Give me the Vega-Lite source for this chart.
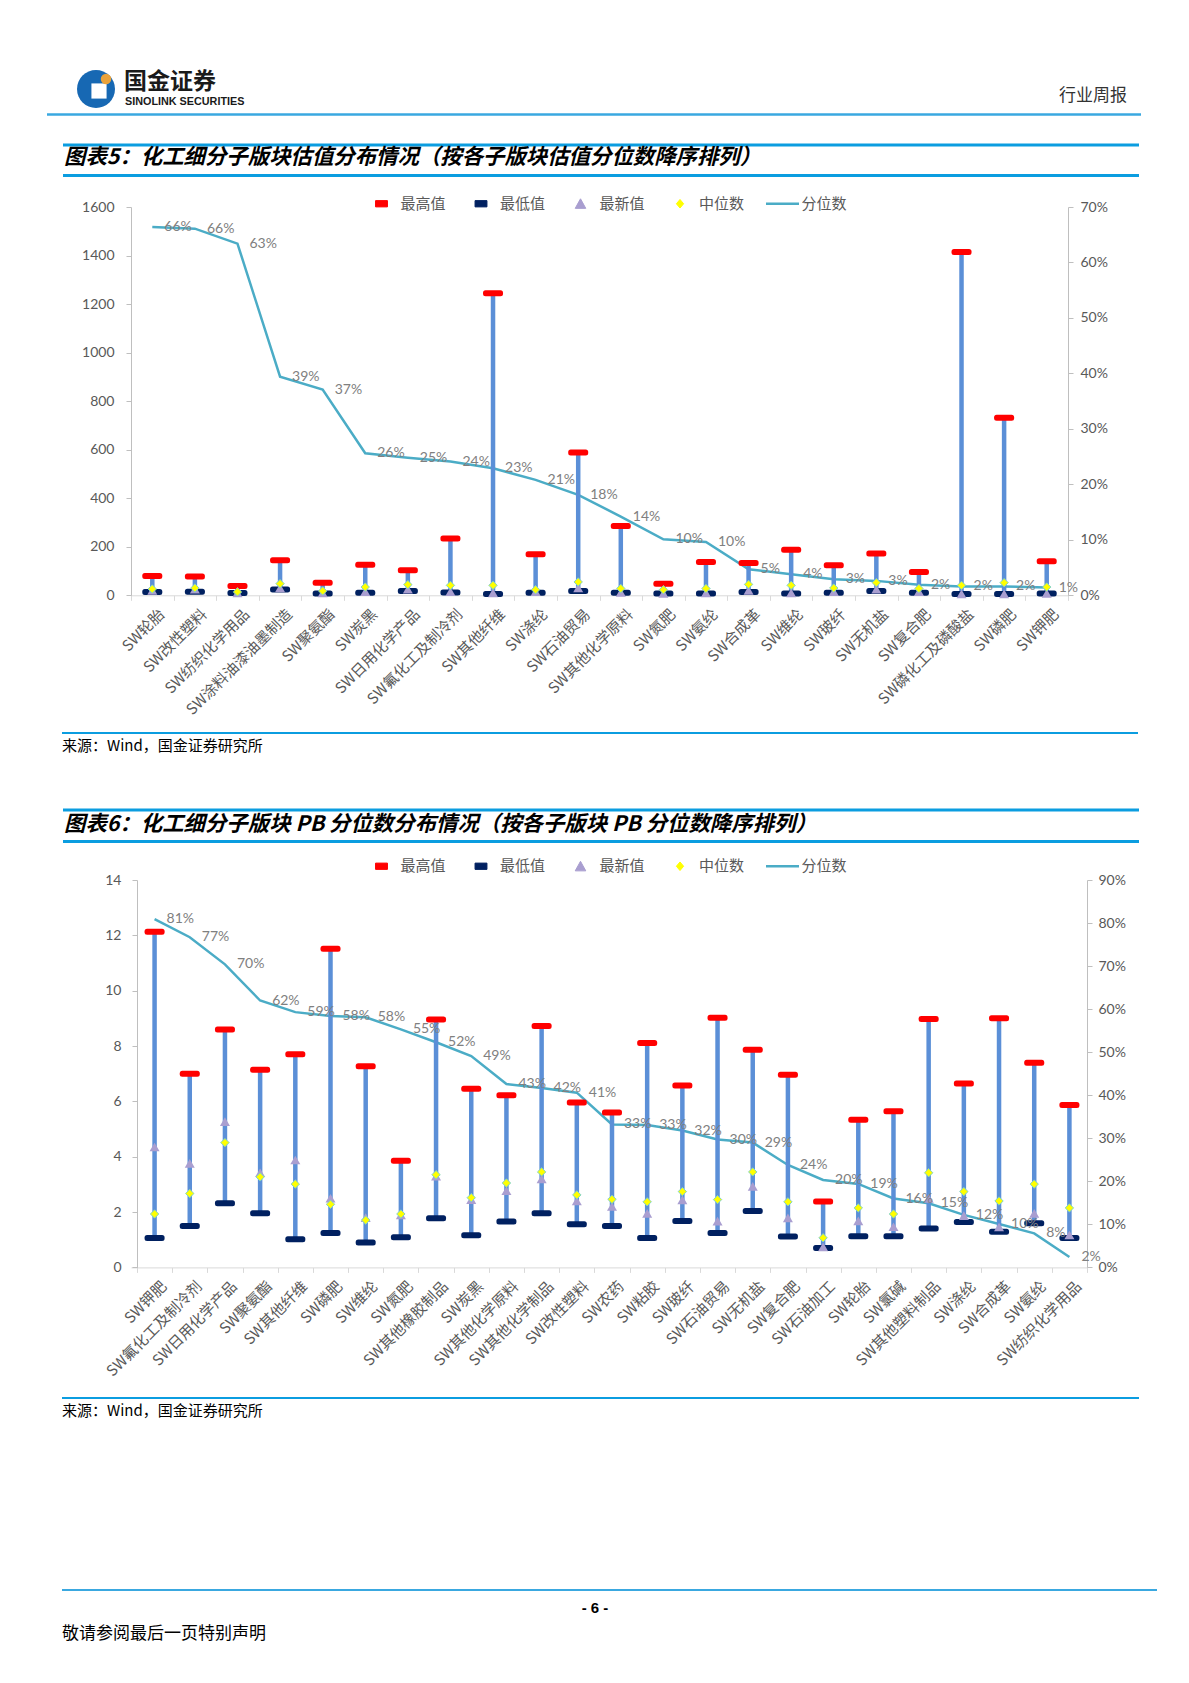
{
  "$schema": "https://vega.github.io/schema/vega-lite/v6.json",
  "padding": 0,
  "background": "#ffffff",
  "spacing": 0,
  "bounds": "flush",
  "resolve": {"scale": {"color": "independent"}, "legend": {"color": "independent"}},
  "config": {"view": {"stroke": null}, "font": "Noto Sans CJK SC", "axis": {"grid": false}},
  "vconcat": [
    {
      "width": 937, "height": 206.7,
      "data": {"values": [{}]},
      "layer": [
        {"mark": {"type": "rect", "fill": "#ffffff"}, "encoding": {"x": {"value": -131}, "x2": {"value": 1058}, "y": {"value": 0}, "y2": {"value": 206.7}}},
        {"mark": {"type": "point", "shape": "circle", "filled": true, "color": "#1768b3", "size": 1444, "opacity": 1}, "encoding": {"x": {"value": -35}, "y": {"value": 89}}},
        {"mark": {"type": "point", "shape": "square", "filled": true, "color": "#ffffff", "size": 230, "opacity": 1}, "encoding": {"x": {"value": -32}, "y": {"value": 91}}},
        {"mark": {"type": "point", "shape": "circle", "filled": true, "color": "#e9a23b", "size": 110, "opacity": 1}, "encoding": {"x": {"value": -25}, "y": {"value": 79}}},
        {"mark": {"type": "text", "align": "left", "baseline": "middle", "fontSize": 23, "fontWeight": "bold", "font": "Noto Sans CJK SC", "color": "#1a1a1a"}, "encoding": {"x": {"value": -7}, "y": {"value": 82}, "text": {"value": "国金证券"}}},
        {"mark": {"type": "text", "align": "left", "baseline": "middle", "fontSize": 10.8, "fontWeight": "bold", "font": "Liberation Sans", "color": "#1a1a1a"}, "encoding": {"x": {"value": -6}, "y": {"value": 102}, "text": {"value": "SINOLINK SECURITIES"}}},
        {"mark": {"type": "text", "align": "right", "baseline": "middle", "fontSize": 17, "font": "Noto Sans CJK SC", "color": "#333333"}, "encoding": {"x": {"value": 996}, "y": {"value": 95.5}, "text": {"value": "行业周报"}}},
        {"mark": {"type": "rule", "color": "#3aa8e0", "strokeWidth": 2.5}, "encoding": {"x": {"value": -84}, "x2": {"value": 1010}, "y": {"value": 114.5}}},
        {"mark": {"type": "rule", "color": "#0b9de0", "strokeWidth": 3}, "encoding": {"x": {"value": -68}, "x2": {"value": 1008}, "y": {"value": 145}}},
        {"mark": {"type": "text", "align": "left", "baseline": "middle", "fontSize": 21.4, "fontWeight": "bold", "fontStyle": "italic", "font": "Noto Sans CJK SC", "color": "#000000"}, "encoding": {"x": {"value": -67}, "y": {"value": 157.5}, "text": {"value": "图表5：化工细分子版块估值分布情况（按各子版块估值分位数降序排列）"}}},
        {"mark": {"type": "rule", "color": "#0b9de0", "strokeWidth": 3}, "encoding": {"x": {"value": -68}, "x2": {"value": 1008}, "y": {"value": 175.5}}}
      ]
    },
    {
      "width": 937, "height": 388.3,
      "data": {"values": [
        {"name": "SW轮胎", "max": 80, "min": 14, "latest": 20, "median": 26, "pct": 0.664},
        {"name": "SW改性塑料", "max": 77, "min": 15, "latest": 25, "median": 30, "pct": 0.661},
        {"name": "SW纺织化学用品", "max": 38, "min": 9, "latest": 10, "median": 14, "pct": 0.634},
        {"name": "SW涂料油漆油墨制造", "max": 144, "min": 24, "latest": 30, "median": 48, "pct": 0.394},
        {"name": "SW聚氨酯", "max": 52, "min": 7, "latest": 10, "median": 18, "pct": 0.371},
        {"name": "SW炭黑", "max": 126, "min": 10, "latest": 15, "median": 34, "pct": 0.256},
        {"name": "SW日用化学产品", "max": 103, "min": 18, "latest": 25, "median": 44, "pct": 0.248},
        {"name": "SW氟化工及制冷剂", "max": 234, "min": 12, "latest": 15, "median": 41, "pct": 0.241},
        {"name": "SW其他纤维", "max": 1245, "min": 5, "latest": 10, "median": 41, "pct": 0.229},
        {"name": "SW涤纶", "max": 169, "min": 10, "latest": 15, "median": 23, "pct": 0.208},
        {"name": "SW石油贸易", "max": 588, "min": 18, "latest": 30, "median": 55, "pct": 0.181},
        {"name": "SW其他化学原料", "max": 286, "min": 11, "latest": 12, "median": 28, "pct": 0.142},
        {"name": "SW氮肥", "max": 48, "min": 7, "latest": 8, "median": 23, "pct": 0.101},
        {"name": "SW氨纶", "max": 137, "min": 7, "latest": 10, "median": 28, "pct": 0.096},
        {"name": "SW合成革", "max": 133, "min": 14, "latest": 20, "median": 45, "pct": 0.047},
        {"name": "SW维纶", "max": 188, "min": 7, "latest": 10, "median": 41, "pct": 0.038},
        {"name": "SW玻纤", "max": 124, "min": 10, "latest": 15, "median": 30, "pct": 0.029},
        {"name": "SW无机盐", "max": 172, "min": 18, "latest": 25, "median": 52, "pct": 0.026},
        {"name": "SW复合肥", "max": 96, "min": 10, "latest": 15, "median": 28, "pct": 0.019},
        {"name": "SW磷化工及磷酸盐", "max": 1415, "min": 5, "latest": 6, "median": 41, "pct": 0.016},
        {"name": "SW磷肥", "max": 732, "min": 5, "latest": 6, "median": 52, "pct": 0.016},
        {"name": "SW钾肥", "max": 140, "min": 7, "latest": 8, "median": 34, "pct": 0.014}
      ]},
      "layer": [
        {
          "mark": {"type": "line", "strokeWidth": 2.5},
          "encoding": {
            "x": {"field": "name", "type": "nominal", "sort": null, "scale": {"type": "band", "paddingInner": 0, "paddingOuter": 0}, "axis": {"title": null, "labelAngle": -45, "labelFont": "Noto Sans CJK SC", "labelFontSize": 15, "labelColor": "#595959", "domainColor": "#d9d9d9", "tickColor": "#d9d9d9", "tickSize": 5, "tickBand": "extent", "labelPadding": 6, "labelOffset": 4, "labelOverlap": false, "labelLimit": 0}},
            "y": {"field": "pct", "type": "quantitative", "scale": {"domain": [0, 0.7], "nice": false}, "axis": {"orient": "right", "title": null, "values": [0, 0.1, 0.2, 0.3, 0.4, 0.5, 0.6, 0.7], "format": ".0%", "domainColor": "#bfbfbf", "tickColor": "#bfbfbf", "tickSize": 5, "labelFont": "Lato", "labelFontSize": 14, "labelColor": "#595959", "labelPadding": 7}},
            "color": {"datum": "分位数", "scale": {"domain": ["最高值", "最低值", "最新值", "中位数", "分位数"], "range": ["#ff0000", "#002060", "#a99ed0", "#ffff00", "#4bacc6"]},
              "legend": {"orient": "none", "legendX": 243, "legendY": -11, "direction": "horizontal", "title": null, "padding": 0, "symbolSize": 1089, "labelOffset": 11.5, "columnPadding": 16.5, "labelFont": "Noto Sans CJK SC", "labelFontSize": 15, "labelColor": "#595959", "labelLimit": 0,
                "encode": {"symbols": {"update": {
                  "shape": {"signal": "datum.value === '最高值' || datum.value === '最低值' ? 'M-1,0M1,0M-0.36,-0.19H0.36V0.19H-0.36Z' : datum.value === '最新值' ? 'M-1,0M1,0M0,-0.3L0.32,0.28H-0.32Z' : datum.value === '中位数' ? 'M-1,0M1,0M0,-0.26L0.22,0L0,0.26L-0.22,0Z' : 'M-1,0H1'"},
                  "fill": {"signal": "datum.value === '最高值' ? '#ff0000' : datum.value === '最低值' ? '#002060' : datum.value === '最新值' ? '#a99ed0' : datum.value === '中位数' ? '#ffff00' : 'transparent'"},
                  "stroke": {"signal": "datum.value === '中位数' ? '#7fd3c8' : datum.value === '分位数' ? '#4bacc6' : 'transparent'"},
                  "strokeWidth": {"signal": "datum.value === '分位数' ? 2.5 : 1"},
                  "opacity": {"value": 1}
                }}}
              }}
          }
        },
        {
          "layer": [
            {
              "mark": {"type": "rule", "color": "#5b8fd7", "strokeWidth": 4.5},
              "encoding": {
                "x": {"field": "name", "type": "nominal", "sort": null, "scale": {"type": "band", "paddingInner": 0, "paddingOuter": 0}},
                "y": {"field": "min", "type": "quantitative", "scale": {"domain": [0, 1600], "nice": false}, "axis": {"orient": "left", "title": null, "values": [0, 200, 400, 600, 800, 1000, 1200, 1400, 1600], "format": "d", "domainColor": "#bfbfbf", "tickColor": "#bfbfbf", "tickSize": 5, "labelFont": "Lato", "labelFontSize": 14, "labelColor": "#595959", "labelPadding": 12}},
                "y2": {"field": "max"}
              }
            },
            {
              "mark": {"type": "point", "shape": "M-0.75,-0.3H0.75Q1,-0.3 1,-0.05V0.05Q1,0.3 0.75,0.3H-0.75Q-1,0.3 -1,0.05V-0.05Q-1,-0.3 -0.75,-0.3Z", "filled": true, "size": 400, "opacity": 1, "strokeWidth": 0},
              "encoding": {
                "x": {"field": "name", "type": "nominal", "sort": null, "scale": {"type": "band", "paddingInner": 0, "paddingOuter": 0}},
                "y": {"field": "max", "type": "quantitative", "title": null},
                "color": {"datum": "最高值", "scale": {"domain": ["最高值", "最低值", "最新值", "中位数", "分位数"], "range": ["#ff0000", "#002060", "#a99ed0", "#ffff00", "#4bacc6"]}}
              }
            },
            {
              "mark": {"type": "point", "shape": "M-0.75,-0.3H0.75Q1,-0.3 1,-0.05V0.05Q1,0.3 0.75,0.3H-0.75Q-1,0.3 -1,0.05V-0.05Q-1,-0.3 -0.75,-0.3Z", "filled": true, "size": 400, "opacity": 1, "strokeWidth": 0},
              "encoding": {
                "x": {"field": "name", "type": "nominal", "sort": null, "scale": {"type": "band", "paddingInner": 0, "paddingOuter": 0}},
                "y": {"field": "min", "type": "quantitative", "title": null},
                "color": {"datum": "最低值", "scale": {"domain": ["最高值", "最低值", "最新值", "中位数", "分位数"], "range": ["#ff0000", "#002060", "#a99ed0", "#ffff00", "#4bacc6"]}}
              }
            },
            {
              "mark": {"type": "point", "shape": "triangle-up", "filled": true, "size": 100, "opacity": 1, "strokeWidth": 0},
              "encoding": {
                "x": {"field": "name", "type": "nominal", "sort": null, "scale": {"type": "band", "paddingInner": 0, "paddingOuter": 0}},
                "y": {"field": "latest", "type": "quantitative", "title": null},
                "color": {"datum": "最新值", "scale": {"domain": ["最高值", "最低值", "最新值", "中位数", "分位数"], "range": ["#ff0000", "#002060", "#a99ed0", "#ffff00", "#4bacc6"]}}
              }
            },
            {
              "mark": {"type": "point", "shape": "diamond", "filled": true, "size": 70, "opacity": 1, "stroke": "#7fd3c8", "strokeWidth": 1},
              "encoding": {
                "x": {"field": "name", "type": "nominal", "sort": null, "scale": {"type": "band", "paddingInner": 0, "paddingOuter": 0}},
                "y": {"field": "median", "type": "quantitative", "title": null},
                "color": {"datum": "中位数", "scale": {"domain": ["最高值", "最低值", "最新值", "中位数", "分位数"], "range": ["#ff0000", "#002060", "#a99ed0", "#ffff00", "#4bacc6"]}}
              }
            }
          ]
        },
        {
          "mark": {"type": "text", "align": "left", "baseline": "middle", "dx": 12, "font": "Lato", "fontSize": 14, "color": "#808080"},
          "encoding": {
            "x": {"field": "name", "type": "nominal", "sort": null, "scale": {"type": "band", "paddingInner": 0, "paddingOuter": 0}},
            "y": {"field": "pct", "type": "quantitative", "scale": {"domain": [0, 0.7], "nice": false}, "axis": null},
            "text": {"field": "pct", "format": ".0%"}
          }
        }
      ],
      "resolve": {"scale": {"y": "independent"}}
    },
    {
      "width": 937, "height": 283.3,
      "data": {"values": [{}]},
      "layer": [
        {"mark": {"type": "rule", "color": "#0b9de0", "strokeWidth": 2}, "encoding": {"x": {"value": -69}, "x2": {"value": 1007}, "y": {"value": 137}}},
        {"mark": {"type": "text", "align": "left", "baseline": "middle", "fontSize": 15, "font": "Noto Sans CJK SC", "color": "#000000"}, "encoding": {"x": {"value": -69}, "y": {"value": 149.5}, "text": {"value": "来源：Wind，国金证券研究所"}}},
        {"mark": {"type": "rule", "color": "#0b9de0", "strokeWidth": 3}, "encoding": {"x": {"value": -68}, "x2": {"value": 1008}, "y": {"value": 214}}},
        {"mark": {"type": "text", "align": "left", "baseline": "middle", "fontSize": 21.4, "fontWeight": "bold", "fontStyle": "italic", "font": "Noto Sans CJK SC", "color": "#000000"}, "encoding": {"x": {"value": -67}, "y": {"value": 228.5}, "text": {"value": "图表6：化工细分子版块 PB 分位数分布情况（按各子版块 PB 分位数降序排列）"}}},
        {"mark": {"type": "rule", "color": "#0b9de0", "strokeWidth": 3}, "encoding": {"x": {"value": -68}, "x2": {"value": 1008}, "y": {"value": 245.5}}}
      ]
    },
    {
      "width": 956, "height": 387.4,
      "data": {"values": [
        {"name": "SW钾肥", "max": 12.13, "min": 1.06, "latest": 4.35, "median": 1.93, "pct": 0.809},
        {"name": "SW氟化工及制冷剂", "max": 7.0, "min": 1.5, "latest": 3.76, "median": 2.67, "pct": 0.767},
        {"name": "SW日用化学产品", "max": 8.6, "min": 2.32, "latest": 5.27, "median": 4.51, "pct": 0.704},
        {"name": "SW聚氨酯", "max": 7.14, "min": 1.96, "latest": 3.42, "median": 3.27, "pct": 0.62},
        {"name": "SW其他纤维", "max": 7.7, "min": 1.02, "latest": 3.88, "median": 3.01, "pct": 0.593},
        {"name": "SW磷肥", "max": 11.52, "min": 1.24, "latest": 2.5, "median": 2.28, "pct": 0.584},
        {"name": "SW维纶", "max": 7.27, "min": 0.9, "latest": 1.8, "median": 1.71, "pct": 0.581},
        {"name": "SW氮肥", "max": 3.85, "min": 1.09, "latest": 1.9, "median": 1.93, "pct": 0.553},
        {"name": "SW其他橡胶制品", "max": 8.96, "min": 1.78, "latest": 3.3, "median": 3.35, "pct": 0.523},
        {"name": "SW炭黑", "max": 6.46, "min": 1.16, "latest": 2.45, "median": 2.52, "pct": 0.491},
        {"name": "SW其他化学原料", "max": 6.22, "min": 1.66, "latest": 2.77, "median": 3.05, "pct": 0.426},
        {"name": "SW其他化学制品", "max": 8.72, "min": 1.96, "latest": 3.2, "median": 3.45, "pct": 0.417},
        {"name": "SW改性塑料", "max": 5.96, "min": 1.56, "latest": 2.4, "median": 2.62, "pct": 0.406},
        {"name": "SW农药", "max": 5.6, "min": 1.5, "latest": 2.2, "median": 2.46, "pct": 0.332},
        {"name": "SW粘胶", "max": 8.11, "min": 1.06, "latest": 1.95, "median": 2.37, "pct": 0.331},
        {"name": "SW玻纤", "max": 6.57, "min": 1.68, "latest": 2.44, "median": 2.74, "pct": 0.318},
        {"name": "SW石油贸易", "max": 9.02, "min": 1.24, "latest": 1.67, "median": 2.45, "pct": 0.297},
        {"name": "SW无机盐", "max": 7.87, "min": 2.04, "latest": 2.93, "median": 3.45, "pct": 0.29},
        {"name": "SW复合肥", "max": 6.96, "min": 1.12, "latest": 1.79, "median": 2.37, "pct": 0.238},
        {"name": "SW石油加工", "max": 2.38, "min": 0.7, "latest": 0.74, "median": 1.07, "pct": 0.203},
        {"name": "SW轮胎", "max": 5.34, "min": 1.13, "latest": 1.68, "median": 2.15, "pct": 0.194},
        {"name": "SW氯碱", "max": 5.64, "min": 1.13, "latest": 1.47, "median": 1.93, "pct": 0.16},
        {"name": "SW其他塑料制品", "max": 8.98, "min": 1.41, "latest": 2.49, "median": 3.42, "pct": 0.149},
        {"name": "SW涤纶", "max": 6.65, "min": 1.64, "latest": 1.87, "median": 2.74, "pct": 0.122},
        {"name": "SW合成革", "max": 9.0, "min": 1.29, "latest": 1.46, "median": 2.4, "pct": 0.101},
        {"name": "SW氨纶", "max": 7.4, "min": 1.6, "latest": 1.95, "median": 3.01, "pct": 0.079},
        {"name": "SW纺织化学用品", "max": 5.87, "min": 1.06, "latest": 1.17, "median": 2.15, "pct": 0.024}
      ]},
      "layer": [
        {
          "mark": {"type": "line", "strokeWidth": 2.5},
          "encoding": {
            "x": {"field": "name", "type": "nominal", "sort": null, "scale": {"type": "band", "paddingInner": 0, "paddingOuter": 0.085, "align": 1}, "axis": {"title": null, "labelAngle": -45, "labelFont": "Noto Sans CJK SC", "labelFontSize": 15, "labelColor": "#595959", "domainColor": "#d9d9d9", "tickColor": "#d9d9d9", "tickSize": 5, "tickBand": "extent", "labelPadding": 6, "labelOffset": 4, "labelOverlap": false, "labelLimit": 0}},
            "y": {"field": "pct", "type": "quantitative", "scale": {"domain": [0, 0.9], "nice": false}, "axis": {"orient": "right", "title": null, "values": [0, 0.1, 0.2, 0.3, 0.4, 0.5, 0.6, 0.7, 0.8, 0.9], "format": ".0%", "domainColor": "#bfbfbf", "tickColor": "#bfbfbf", "tickSize": 5, "labelFont": "Lato", "labelFontSize": 14, "labelColor": "#595959", "labelPadding": 6}},
            "color": {"datum": "分位数", "scale": {"domain": ["最高值", "最低值", "最新值", "中位数", "分位数"], "range": ["#ff0000", "#002060", "#a99ed0", "#ffff00", "#4bacc6"]},
              "legend": {"orient": "none", "legendX": 243, "legendY": -21.5, "direction": "horizontal", "title": null, "padding": 0, "symbolSize": 1089, "labelOffset": 11.5, "columnPadding": 16.5, "labelFont": "Noto Sans CJK SC", "labelFontSize": 15, "labelColor": "#595959", "labelLimit": 0,
                "encode": {"symbols": {"update": {
                  "shape": {"signal": "datum.value === '最高值' || datum.value === '最低值' ? 'M-1,0M1,0M-0.36,-0.19H0.36V0.19H-0.36Z' : datum.value === '最新值' ? 'M-1,0M1,0M0,-0.3L0.32,0.28H-0.32Z' : datum.value === '中位数' ? 'M-1,0M1,0M0,-0.26L0.22,0L0,0.26L-0.22,0Z' : 'M-1,0H1'"},
                  "fill": {"signal": "datum.value === '最高值' ? '#ff0000' : datum.value === '最低值' ? '#002060' : datum.value === '最新值' ? '#a99ed0' : datum.value === '中位数' ? '#ffff00' : 'transparent'"},
                  "stroke": {"signal": "datum.value === '中位数' ? '#7fd3c8' : datum.value === '分位数' ? '#4bacc6' : 'transparent'"},
                  "strokeWidth": {"signal": "datum.value === '分位数' ? 2.5 : 1"},
                  "opacity": {"value": 1}
                }}}
              }}
          }
        },
        {
          "layer": [
            {
              "mark": {"type": "rule", "color": "#5b8fd7", "strokeWidth": 4.5},
              "encoding": {
                "x": {"field": "name", "type": "nominal", "sort": null, "scale": {"type": "band", "paddingInner": 0, "paddingOuter": 0.085, "align": 1}},
                "y": {"field": "min", "type": "quantitative", "scale": {"domain": [0, 14], "nice": false}, "axis": {"orient": "left", "offset": -6, "title": null, "values": [0, 2, 4, 6, 8, 10, 12, 14], "domainColor": "#bfbfbf", "tickColor": "#bfbfbf", "tickSize": 5, "labelFont": "Lato", "labelFontSize": 14, "labelColor": "#595959", "labelPadding": 11}},
                "y2": {"field": "max"}
              }
            },
            {
              "mark": {"type": "point", "shape": "M-0.75,-0.3H0.75Q1,-0.3 1,-0.05V0.05Q1,0.3 0.75,0.3H-0.75Q-1,0.3 -1,0.05V-0.05Q-1,-0.3 -0.75,-0.3Z", "filled": true, "size": 400, "opacity": 1, "strokeWidth": 0},
              "encoding": {
                "x": {"field": "name", "type": "nominal", "sort": null, "scale": {"type": "band", "paddingInner": 0, "paddingOuter": 0.085, "align": 1}},
                "y": {"field": "max", "type": "quantitative", "title": null},
                "color": {"datum": "最高值", "scale": {"domain": ["最高值", "最低值", "最新值", "中位数", "分位数"], "range": ["#ff0000", "#002060", "#a99ed0", "#ffff00", "#4bacc6"]}}
              }
            },
            {
              "mark": {"type": "point", "shape": "M-0.75,-0.3H0.75Q1,-0.3 1,-0.05V0.05Q1,0.3 0.75,0.3H-0.75Q-1,0.3 -1,0.05V-0.05Q-1,-0.3 -0.75,-0.3Z", "filled": true, "size": 400, "opacity": 1, "strokeWidth": 0},
              "encoding": {
                "x": {"field": "name", "type": "nominal", "sort": null, "scale": {"type": "band", "paddingInner": 0, "paddingOuter": 0.085, "align": 1}},
                "y": {"field": "min", "type": "quantitative", "title": null},
                "color": {"datum": "最低值", "scale": {"domain": ["最高值", "最低值", "最新值", "中位数", "分位数"], "range": ["#ff0000", "#002060", "#a99ed0", "#ffff00", "#4bacc6"]}}
              }
            },
            {
              "mark": {"type": "point", "shape": "triangle-up", "filled": true, "size": 100, "opacity": 1, "strokeWidth": 0},
              "encoding": {
                "x": {"field": "name", "type": "nominal", "sort": null, "scale": {"type": "band", "paddingInner": 0, "paddingOuter": 0.085, "align": 1}},
                "y": {"field": "latest", "type": "quantitative", "title": null},
                "color": {"datum": "最新值", "scale": {"domain": ["最高值", "最低值", "最新值", "中位数", "分位数"], "range": ["#ff0000", "#002060", "#a99ed0", "#ffff00", "#4bacc6"]}}
              }
            },
            {
              "mark": {"type": "point", "shape": "diamond", "filled": true, "size": 70, "opacity": 1, "stroke": "#7fd3c8", "strokeWidth": 1},
              "encoding": {
                "x": {"field": "name", "type": "nominal", "sort": null, "scale": {"type": "band", "paddingInner": 0, "paddingOuter": 0.085, "align": 1}},
                "y": {"field": "median", "type": "quantitative", "title": null},
                "color": {"datum": "中位数", "scale": {"domain": ["最高值", "最低值", "最新值", "中位数", "分位数"], "range": ["#ff0000", "#002060", "#a99ed0", "#ffff00", "#4bacc6"]}}
              }
            }
          ]
        },
        {
          "mark": {"type": "text", "align": "left", "baseline": "middle", "dx": 12, "font": "Lato", "fontSize": 14, "color": "#808080"},
          "encoding": {
            "x": {"field": "name", "type": "nominal", "sort": null, "scale": {"type": "band", "paddingInner": 0, "paddingOuter": 0.085, "align": 1}},
            "y": {"field": "pct", "type": "quantitative", "scale": {"domain": [0, 0.9], "nice": false}, "axis": null},
            "text": {"field": "pct", "format": ".0%"}
          }
        }
      ],
      "resolve": {"scale": {"y": "independent"}}
    },
    {
      "width": 937, "height": 417.3,
      "data": {"values": [{}]},
      "layer": [
        {"mark": {"type": "rule", "color": "#0b9de0", "strokeWidth": 2}, "encoding": {"x": {"value": -69}, "x2": {"value": 1008}, "y": {"value": 130}}},
        {"mark": {"type": "text", "align": "left", "baseline": "middle", "fontSize": 15, "font": "Noto Sans CJK SC", "color": "#000000"}, "encoding": {"x": {"value": -69}, "y": {"value": 142.5}, "text": {"value": "来源：Wind，国金证券研究所"}}},
        {"mark": {"type": "rule", "color": "#3aa8e0", "strokeWidth": 2}, "encoding": {"x": {"value": -69}, "x2": {"value": 1026}, "y": {"value": 322}}},
        {"mark": {"type": "text", "align": "center", "baseline": "middle", "fontSize": 15, "fontWeight": "bold", "font": "Liberation Sans", "color": "#000000"}, "encoding": {"x": {"value": 464}, "y": {"value": 339.5}, "text": {"value": "- 6 -"}}},
        {"mark": {"type": "text", "align": "left", "baseline": "middle", "fontSize": 17, "font": "Noto Sans CJK SC", "color": "#000000"}, "encoding": {"x": {"value": -69}, "y": {"value": 366}, "text": {"value": "敬请参阅最后一页特别声明"}}}
      ]
    }
  ]
}
